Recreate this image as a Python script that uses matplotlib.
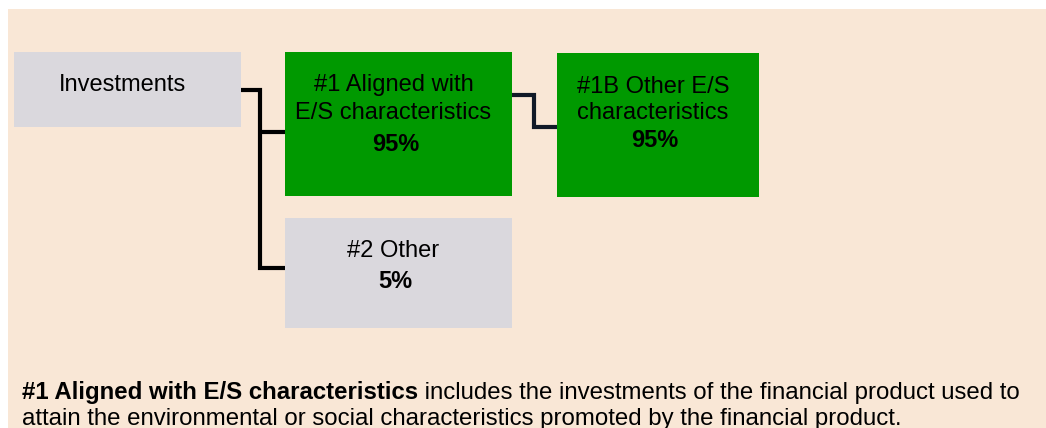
import matplotlib
matplotlib.use("Agg")
import matplotlib.pyplot as plt
from matplotlib.patches import Rectangle

# ---- data ----
box_names = ["Investments", "#1 Aligned with E/S characteristics",
             "#1B Other E/S characteristics", "#2 Other"]
box_lines = [["Investments"],
             ["#1 Aligned with", "E/S characteristics"],
             ["#1B Other E/S", "characteristics"],
             ["#2 Other"]]
box_shares = [None, "95%", "95%", "5%"]
box_kinds = ["grey", "green", "green", "grey"]
note_bold = "#1 Aligned with E/S characteristics"
note_rest1 = " includes the investments of the financial product used to"
note_line2 = "attain the environmental or social characteristics promoted by the financial product."

# ---- layout (pixels) ----
W, H = 1046, 428
box_rects = [(14, 52, 227, 75), (285, 52, 227, 144), (557, 53, 202, 144), (285, 218, 227, 110)]
text_baselines = [[91], [91, 119], [93, 119], [257]]
share_baselines = [None, 151, 147, 288]
colors = {"grey": "#dad8dd", "green": "#009900"}
bg = "#f9e7d6"
FONT = "Liberation Sans"
NOTE_FS = 17.3

fig = plt.figure(figsize=(W / 100, H / 100), dpi=100)
ax = fig.add_axes([0, 0, 1, 1])
ax.set_xlim(0, W)
ax.set_ylim(H, 0)
ax.axis("off")
fig.patch.set_facecolor("white")

ax.add_patch(Rectangle((8, 9), W - 8, H - 9, facecolor=bg, edgecolor="none", zorder=0))

for (x, y, w, h), kind, lines, bls, share, sbl in zip(box_rects, box_kinds, box_lines,
                                                       text_baselines, box_shares, share_baselines):
    ax.add_patch(Rectangle((x, y), w, h, facecolor=colors[kind], edgecolor="none", zorder=1))
    cx = x + w / 2 - 5
    for line, b in zip(lines, bls):
        ax.text(cx, b, line, ha="center", va="baseline", fontsize=17, family=FONT,
                color="black", zorder=3)
    if share is not None:
        ax.text(cx + 2, sbl, share, ha="center", va="baseline", fontsize=17, family=FONT,
                fontweight="bold", color="black", zorder=3)

# connectors
lw = 3.0
ax.plot([241, 260, 260, 285], [90, 90, 268, 268], color="black", lw=lw,
        solid_joinstyle="miter", solid_capstyle="butt", zorder=2)
ax.plot([260, 285], [132, 132], color="black", lw=lw, solid_capstyle="butt", zorder=2)
ax.plot([512, 534, 534, 557], [94.5, 94.5, 127, 127], color="#111a28", lw=lw,
        solid_joinstyle="miter", solid_capstyle="butt", zorder=2)

# footnote
t1 = ax.text(22, 399, note_bold, ha="left", va="baseline", fontsize=NOTE_FS, family=FONT,
             fontweight="bold", color="black", zorder=3)
fig.canvas.draw()
bb = t1.get_window_extent(renderer=fig.canvas.get_renderer())
x_end = ax.transData.inverted().transform((bb.x1, bb.y0))[0]
ax.text(x_end, 399, note_rest1, ha="left", va="baseline", fontsize=NOTE_FS, family=FONT,
        color="black", zorder=3)
ax.text(22, 425, note_line2, ha="left", va="baseline", fontsize=NOTE_FS, family=FONT,
        color="black", zorder=3)

fig.savefig("out.png", dpi=100, facecolor="white")
